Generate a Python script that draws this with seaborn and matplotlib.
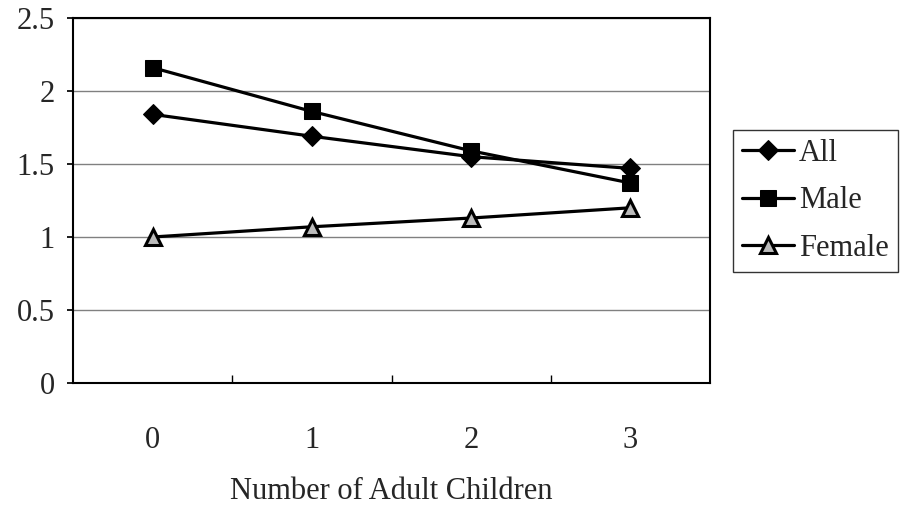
import matplotlib
matplotlib.use("Agg")
import matplotlib.pyplot as plt
import seaborn as sns
import pandas as pd
from matplotlib.ticker import FixedLocator

categories = ["0", "1", "2", "3"]
all_vals = [1.84, 1.69, 1.55, 1.47]
male_vals = [2.16, 1.86, 1.59, 1.37]
female_vals = [1.00, 1.07, 1.13, 1.20]
series_names = ["All", "Male", "Female"]

rows = []
for name, vals in zip(series_names, [all_vals, male_vals, female_vals]):
    for i, v in enumerate(vals):
        rows.append({"pos": i, "value": v, "series": name})
df = pd.DataFrame(rows)

sns.set_theme(style="white")
plt.rcParams["font.family"] = ["Liberation Serif", "DejaVu Serif"]

fig = plt.figure(figsize=(9.03, 5.08), dpi=100)
ax = fig.add_axes([73/903, 1-383/508, (710-73)/903, (383-18)/508])

styles = {
    "All": dict(marker="D", markersize=10, mfc="black", mec="black"),
    "Male": dict(marker="s", markersize=11, mfc="black", mec="black"),
    "Female": dict(marker="^", markersize=11, mfc="#bbbbbb", mec="black", mew=2.2),
}
for name in series_names:
    sub = df[df["series"] == name]
    sns.lineplot(data=sub, x="pos", y="value", ax=ax, color="black", lw=2.3,
                 label=name, **styles[name])

ax.set_xlim(-0.5, 3.5)
ax.set_ylim(0, 2.5)
ax.set_yticks([0, 0.5, 1, 1.5, 2, 2.5])
ax.set_yticklabels(["0", "0.5", "1", "1.5", "2", "2.5"])
ax.yaxis.grid(True, color="#808080", lw=1)
ax.set_xticks(range(len(categories)))
ax.set_xticklabels(categories)
ax.xaxis.set_minor_locator(FixedLocator([0.5, 1.5, 2.5]))
ax.tick_params(axis="x", which="major", length=0, pad=31, labelsize=22)
ax.tick_params(axis="x", which="minor", length=6, direction="in", color="black", width=1, bottom=True)
ax.tick_params(axis="y", which="major", length=4, direction="out", color="black", left=True, pad=9, labelsize=22)
for s in ax.spines.values():
    s.set_color("black")
    s.set_linewidth(1.5)
ax.set_xlabel("Number of Adult Children", fontsize=22, labelpad=16)
ax.set_ylabel("")

ax.get_legend().remove()
handles, labels = ax.get_legend_handles_labels()
leg = fig.legend(handles, labels, loc="center left",
                 bbox_to_anchor=(733/903, 1-201/508), fontsize=22,
                 frameon=True, fancybox=False, handlelength=1.7,
                 handletextpad=0.15, borderpad=0.3, labelspacing=0.6,
                 borderaxespad=0)
leg.get_frame().set_edgecolor("black")
leg.get_frame().set_linewidth(1)

fig.savefig("out.png", dpi=100)
